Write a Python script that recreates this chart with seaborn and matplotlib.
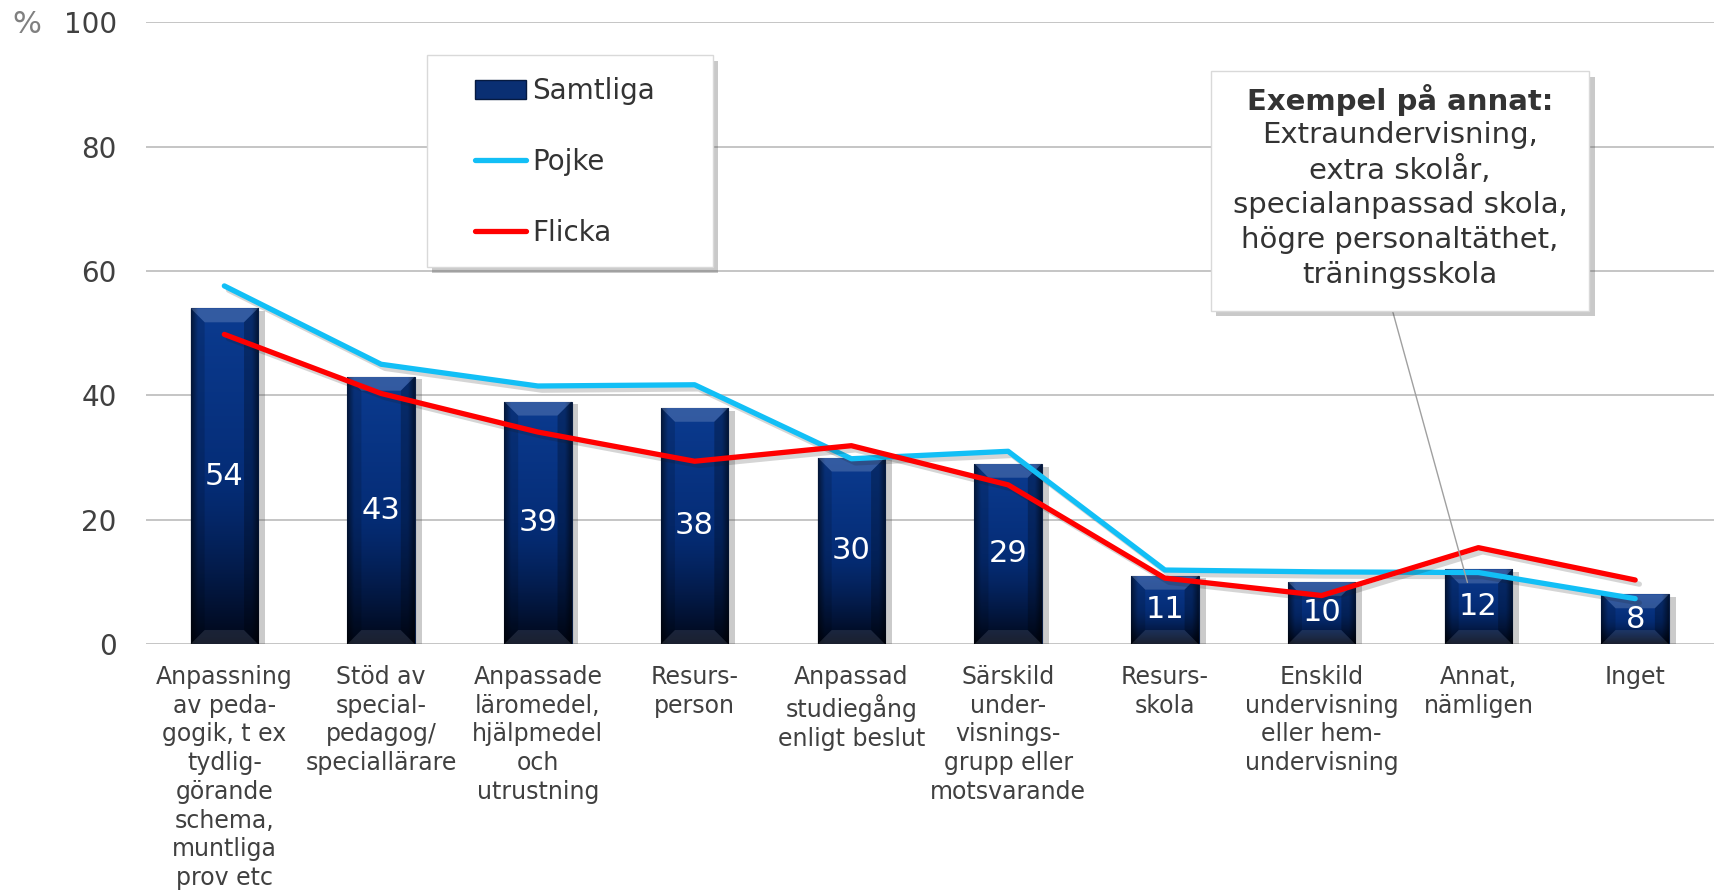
import numpy as np
import pandas as pd
import matplotlib
matplotlib.use("Agg")
import matplotlib.pyplot as plt
import matplotlib.patheffects as pe
from matplotlib.patches import Patch, Polygon, Rectangle
from matplotlib.lines import Line2D
from matplotlib.transforms import Bbox
import seaborn as sns

# data
CATEGORIES = [
    "Anpassning\nav peda-\ngogik, t ex\ntydlig-\ngörande\nschema,\nmuntliga\nprov etc",
    "Stöd av\nspecial-\npedagog/\nspeciallärare",
    "Anpassade\nläromedel,\nhjälpmedel\noch\nutrustning",
    "Resurs-\nperson",
    "Anpassad\nstudiegång\nenligt beslut",
    "Särskild\nunder-\nvisnings-\ngrupp eller\nmotsvarande",
    "Resurs-\nskola",
    "Enskild\nundervisning\neller hem-\nundervisning",
    "Annat,\nnämligen",
    "Inget",
]
SAMTLIGA = [54, 43, 39, 38, 30, 29, 11, 10, 12, 8]
POJKE = [57.6, 45.0, 41.5, 41.7, 29.8, 31.0, 11.9, 11.6, 11.5, 7.3]
FLICKA = [49.8, 40.3, 34.1, 29.4, 31.9, 25.6, 10.6, 7.8, 15.5, 10.3]
Y_TICKS = [0, 20, 40, 60, 80, 100]
SERIES_NAMES = ["Samtliga", "Pojke", "Flicka"]
NOTE_TITLE = "Exempel på annat:"
NOTE_LINES = ["Extraundervisning,", "extra skolår,", "specialanpassad skola,",
              "högre personaltäthet,", "träningsskola"]

NAVY = "#06307a"
BLUE = "#12bff6"
RED = "#ff0000"
TXT = "#404040"

sns.set_theme(style="white")
plt.rcParams["font.family"] = ["DejaVu Sans"]

df = pd.DataFrame({"cat": CATEGORIES, "samtliga": SAMTLIGA,
                   "pojke": POJKE, "flicka": FLICKA})

fig = plt.figure(figsize=(17.17, 8.92), dpi=100)
ax = fig.add_axes([0.085, 0.278, 0.913, 0.697])

sns.barplot(data=df, x="cat", y="samtliga", color=NAVY, width=0.43,
            saturation=1, edgecolor="#0b1f45", linewidth=0.8, ax=ax, zorder=2)

for col, colr in [("pojke", BLUE), ("flicka", RED)]:
    sns.pointplot(data=df, x="cat", y=col, color=colr, markers="",
                  linestyles="-", errorbar=None, linewidth=3.8, ax=ax)
    ln = ax.lines[-1]
    ln.set_zorder(4)
    ln.set_solid_capstyle("round")
    ln.set_path_effects([pe.SimpleLineShadow(offset=(3, -3), alpha=0.18),
                         pe.Normal()])

ax.set_xlim(-0.5, len(CATEGORIES) - 0.5)
ax.set_ylim(0, 100)
ax.set_yticks(Y_TICKS)
ax.set_yticklabels([str(v) for v in Y_TICKS], fontsize=20, color=TXT)
ax.tick_params(axis="y", length=0, pad=21)
ax.tick_params(axis="x", length=0, pad=15)
ax.set_xticks(range(len(CATEGORIES)))
ax.set_xticklabels(CATEGORIES, fontsize=17, color=TXT, linespacing=1.25)
ax.set_xlabel("")
ax.set_ylabel("")
ax.grid(axis="y", color="#c0c0c0", linewidth=1.3)
ax.grid(axis="x", visible=False)
ax.set_axisbelow(True)
for s in ax.spines.values():
    s.set_visible(False)

# bar shading: vertical gradient plus bevels
fig.canvas.draw()
bb = ax.get_window_extent()
dx_px = (ax.get_xlim()[1] - ax.get_xlim()[0]) / bb.width
dy_px = (ax.get_ylim()[1] - ax.get_ylim()[0]) / bb.height
bev = 14

rows, cols = 256, 64
t = np.linspace(0, 1, rows)[:, None]
top_c = np.array([0x0b, 0x3b, 0x90]) / 255
mid_c = np.array([0x05, 0x2d, 0x77]) / 255
bot_c = np.array([0x01, 0x07, 0x18]) / 255
a = np.clip(t / 0.5, 0, 1)
b = np.clip((t - 0.5) / 0.5, 0, 1) ** 1.3
col_v = top_c * (1 - a) + mid_c * a
col_v = col_v * (1 - b) + bot_c * b
s = np.abs(np.linspace(-1, 1, cols))[None, :]
edge = 1 - 0.5 * np.clip((s - 0.8) / 0.2, 0, 1)
img = col_v[:, None, :] * edge[..., None] * np.ones((rows, cols, 1))
img = np.clip(img, 0, 1)

bars = list(ax.patches)
for bar in bars:
    x0, w, h = bar.get_x(), bar.get_width(), bar.get_height()
    bar.set_path_effects([pe.SimplePatchShadow(offset=(5, -2), alpha=0.3,
                                               shadow_rgbFace="#555555"),
                          pe.Normal()])
    im = ax.imshow(img, extent=[x0, x0 + w, 0, h], aspect="auto",
                   origin="upper", zorder=2.1, interpolation="bilinear")
    im.set_clip_path(bar)
    bx, by = bev * dx_px, bev * dy_px
    x1 = x0 + w
    ax.add_patch(Polygon([(x0, h), (x1, h), (x1 - bx, h - by), (x0 + bx, h - by)],
                         closed=True, facecolor="white", alpha=0.17,
                         edgecolor="none", zorder=2.2))
    ax.add_patch(Polygon([(x0, 0), (x1, 0), (x1 - bx, by), (x0 + bx, by)],
                         closed=True, facecolor="white", alpha=0.1,
                         edgecolor="none", zorder=2.2))
    ax.add_patch(Polygon([(x0, 0), (x0 + bx, by), (x0 + bx, h - by), (x0, h)],
                         closed=True, facecolor="black", alpha=0.15,
                         edgecolor="none", zorder=2.2))
    ax.add_patch(Polygon([(x1, 0), (x1 - bx, by), (x1 - bx, h - by), (x1, h)],
                         closed=True, facecolor="black", alpha=0.25,
                         edgecolor="none", zorder=2.2))

ax.set_xlim(-0.5, len(CATEGORIES) - 0.5)
ax.set_ylim(0, 100)

for bar, v in zip(bars, SAMTLIGA):
    ax.text(bar.get_x() + bar.get_width() / 2, v / 2, str(v), ha="center",
            va="center", color="white", fontsize=22, zorder=5)

# legend with its own framed box
frame = Rectangle((0.1792, 0.606), 0.1824, 0.341, transform=ax.transAxes,
                  facecolor="white", edgecolor="#d9d9d9", linewidth=1.0,
                  zorder=6)
frame.set_path_effects([pe.SimplePatchShadow(offset=(4, -4), alpha=0.3),
                        pe.Normal()])
ax.add_patch(frame)
handles = [Patch(facecolor="#0a2f73", edgecolor="#061a40"),
           Line2D([], [], color=BLUE, lw=3.8, solid_capstyle="round"),
           Line2D([], [], color=RED, lw=3.8, solid_capstyle="round")]
leg = ax.legend(handles, SERIES_NAMES, loc="upper left",
                bbox_to_anchor=(0.2098, 0.912), borderaxespad=0, borderpad=0,
                frameon=False, fontsize=20, handlelength=1.85,
                handleheight=0.65, handletextpad=0.2, labelspacing=1.54)
for txt in leg.get_texts():
    txt.set_color("#333333")
leg.set_zorder(7)

# note box: title + lines, framed, with leader line
note = ax.text(7.5, 70.65, "\n".join(NOTE_LINES), ha="center", va="center",
               fontsize=21, color="#333333", linespacing=1.3, zorder=10)
title = ax.annotate(NOTE_TITLE, xy=(0.5, 1), xycoords=note, xytext=(0, 3.5),
                    textcoords="offset points", ha="center", va="bottom",
                    fontsize=21, fontweight="bold", color="#333333", zorder=10)
fig.canvas.draw()
r = fig.canvas.get_renderer()
tb = Bbox.union([note.get_window_extent(r), title.get_window_extent(r)])
tb = Bbox.from_extents(tb.x0 - 22, tb.y0 - 22, tb.x1 + 22, tb.y1 + 13)
nb = tb.transformed(ax.transAxes.inverted())
note_box = Rectangle((nb.x0, nb.y0), nb.width, nb.height, transform=ax.transAxes,
                     facecolor="white", edgecolor="#d9d9d9", linewidth=1.0,
                     zorder=9)
note_box.set_path_effects([pe.SimplePatchShadow(offset=(4, -4), alpha=0.3),
                           pe.Normal()])
ax.add_patch(note_box)
ax.annotate("", xy=(7.93, 9.9), xycoords="data", xytext=(0.48, 0.0),
            textcoords=note_box,
            arrowprops=dict(arrowstyle="-", color="#a0a0a0", lw=1.0,
                            shrinkA=0, shrinkB=0), zorder=8)

fig.text(0.0157, 0.972, "%", fontsize=22, color="#808080", ha="center",
         va="center")

fig.savefig("out.png", dpi=100)
